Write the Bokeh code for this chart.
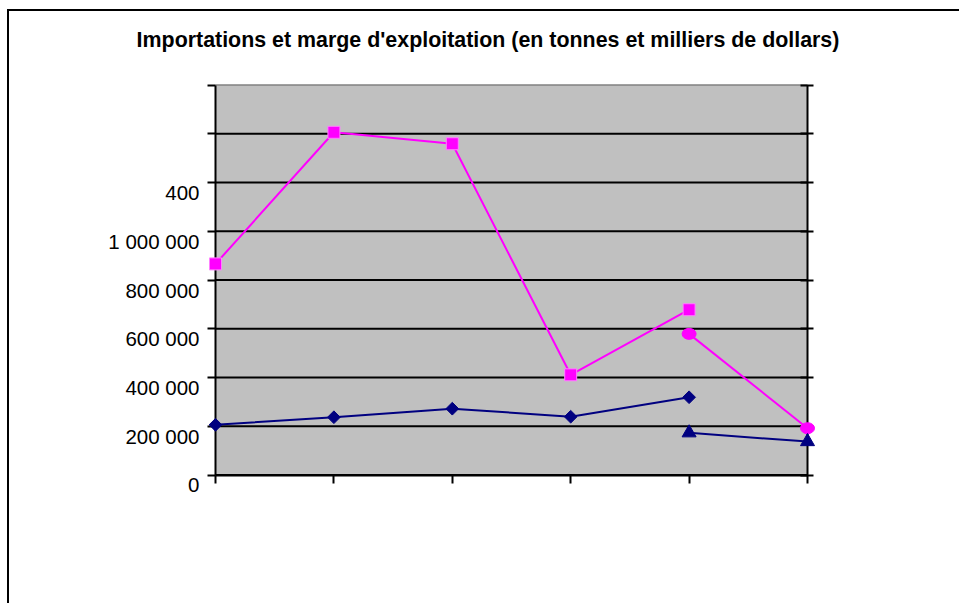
import math
from bokeh.plotting import figure
from bokeh.models import (FixedTicker, LinearAxis, LabelSet, Label, ColumnDataSource,
                          Range1d, BoxAnnotation)
from bokeh.core.properties import value
from bokeh.embed import file_html
from bokeh.resources import INLINE

# ---- data ----
categories = [0, 1, 2, 3, 4, 5]
importations_sq_x = [0, 1, 2, 3, 4]
importations_sq = [866000, 1406000, 1359000, 411000, 678000]
importations_ci_x = [4, 5]
importations_ci = [579000, 192000]
marge_di_x = [0, 1, 2, 3, 4]
marge_di = [206000, 237000, 272000, 239000, 319000]
marge_tr_x = [4, 5]
marge_tr = [173000, 137000]
y_ticks = [0, 200000, 400000, 600000, 800000, 1000000, 1200000, 1400000, 1600000]
y_tick_labels = ["0", "200 000", "400 000", "600 000", "800 000", "1 000 000", "400", "", ""]
title_text = "Importations et marge d'exploitation (en tonnes et milliers de dollars)"

PINK = "#FF00FF"
NAVY = "#000080"
FONT = "Liberation Sans"

# ---- layout (canvas pixels) ----
CANVAS_W, CANVAS_H = 950, 592
MB_L, MB_R, MB_T, MB_B = 30, 30, 5, 30
FRAME_W = CANVAS_W - MB_L - MB_R
FRAME_H = CANVAS_H - MB_T - MB_B
BOX_L, BOX_R, BOX_T, BOX_B = 206, 798, 73.5, 463.5   # grey plot area
TITLE_CX, TITLE_CY = 478.5, 28

xppu = (BOX_R - BOX_L) / (categories[-1] - categories[0])
x_start = categories[0] - (BOX_L - MB_L) / xppu
x_end = categories[-1] + (MB_L + FRAME_W - BOX_R) / xppu
yppu = (BOX_B - BOX_T) / (y_ticks[-1] - y_ticks[0])
y_end = y_ticks[-1] + (BOX_T - MB_T) / yppu
y_start = y_ticks[0] - (MB_T + FRAME_H - BOX_B) / yppu

p = figure(
    frame_width=FRAME_W, frame_height=FRAME_H,
    x_range=Range1d(x_start, x_end), y_range=Range1d(y_start, y_end),
    output_backend="svg", toolbar_location=None,
    min_border_left=MB_L, min_border_right=MB_R,
    min_border_top=MB_T, min_border_bottom=MB_B,
    background_fill_color="white", border_fill_color="white",
)
p.styles = {"margin-left": "7px", "margin-top": "9px",
            "border-left": "2px solid black", "border-top": "2px solid black"}
p.outline_line_color = None
p.xgrid.visible = False
p.ygrid.visible = False

# grey plot area
p.add_layout(BoxAnnotation(left=categories[0], right=categories[-1],
                           bottom=y_ticks[0], top=y_ticks[-1],
                           fill_color="#C0C0C0", fill_alpha=1.0,
                           line_color=None, level="underlay"))

# horizontal gridlines
n = len(y_ticks) - 1
p.segment(x0=[categories[0]] * n, x1=[categories[-1]] * n,
          y0=y_ticks[:-1], y1=y_ticks[:-1], line_color="black", line_width=2)
p.segment(x0=[categories[0]], x1=[categories[-1]],
          y0=[y_ticks[-1]], y1=[y_ticks[-1]], line_color="#808080", line_width=1.5)

# left axis (ticks only)
ya = p.yaxis[0]
ya.fixed_location = categories[0]
ya.bounds = (y_ticks[0], y_ticks[-1])
ya.ticker = FixedTicker(ticks=y_ticks)
ya.major_label_overrides = {t: "" for t in y_ticks}
ya.major_label_text_font_size = "0px"
ya.major_tick_out = 8
ya.major_tick_in = 0
ya.minor_tick_line_color = None
ya.axis_line_width = 2
ya.major_tick_line_width = 2
ya.axis_line_color = "black"

# right axis
ra = LinearAxis(ticker=FixedTicker(ticks=y_ticks),
                fixed_location=categories[-1],
                bounds=(y_ticks[0], y_ticks[-1]),
                major_label_overrides={t: "" for t in y_ticks},
                major_label_text_font_size="0px",
                major_tick_in=7, major_tick_out=6,
                minor_tick_line_color=None,
                axis_line_width=2, major_tick_line_width=2)
p.add_layout(ra, "right")

# bottom axis
xa = p.xaxis[0]
xa.fixed_location = y_ticks[0]
xa.bounds = (categories[0], categories[-1])
xa.ticker = FixedTicker(ticks=categories)
xa.major_label_overrides = {c: "" for c in categories}
xa.major_label_text_font_size = "0px"
xa.major_tick_out = 8
xa.major_tick_in = 0
xa.minor_tick_line_color = None
xa.axis_line_width = 2
xa.major_tick_line_width = 2

# series
p.line(importations_sq_x, importations_sq, line_color=PINK, line_width=2)
p.line(importations_ci_x, importations_ci, line_color=PINK, line_width=2)
p.line(marge_di_x, marge_di, line_color=NAVY, line_width=2)
p.line(marge_tr_x, marge_tr, line_color=NAVY, line_width=2)

p.scatter(importations_sq_x, importations_sq, marker="square", size=12,
          fill_color=PINK, line_color="#FF80FF", line_width=1, level="overlay")
p.ellipse(importations_ci_x, importations_ci, width=14, height=11,
          width_units="screen", height_units="screen",
          fill_color=PINK, line_color=PINK, level="overlay")
p.scatter(marge_di_x, marge_di, marker="square", angle=math.pi / 4, size=9,
          fill_color=NAVY, line_color=NAVY, level="overlay")
p.scatter(marge_tr_x, marge_tr, marker="triangle", size=14,
          fill_color=NAVY, line_color=NAVY, level="overlay")

# y tick labels (drawn slightly below their ticks, as in the reference)
lab_src = ColumnDataSource(dict(
    x=[categories[0]] * len(y_ticks),
    y=y_ticks,
    text=y_tick_labels,
))
p.add_layout(LabelSet(x="x", y="y", text="text", source=lab_src,
                      x_offset=-16, y_offset=-10,
                      text_align="right", text_baseline="middle",
                      text_font=value(FONT), text_font_size=value("20.5px"),
                      text_color="black"))

# title
p.add_layout(Label(x=categories[0] + (TITLE_CX - BOX_L) / xppu,
                   y=y_ticks[-1] + (BOX_T - TITLE_CY) / yppu,
                   text=title_text, text_align="center", text_baseline="middle",
                   text_font=FONT, text_font_style="bold", text_font_size="21.4px",
                   text_color="black"))

open("out.html", "w").write(file_html(p, INLINE))
